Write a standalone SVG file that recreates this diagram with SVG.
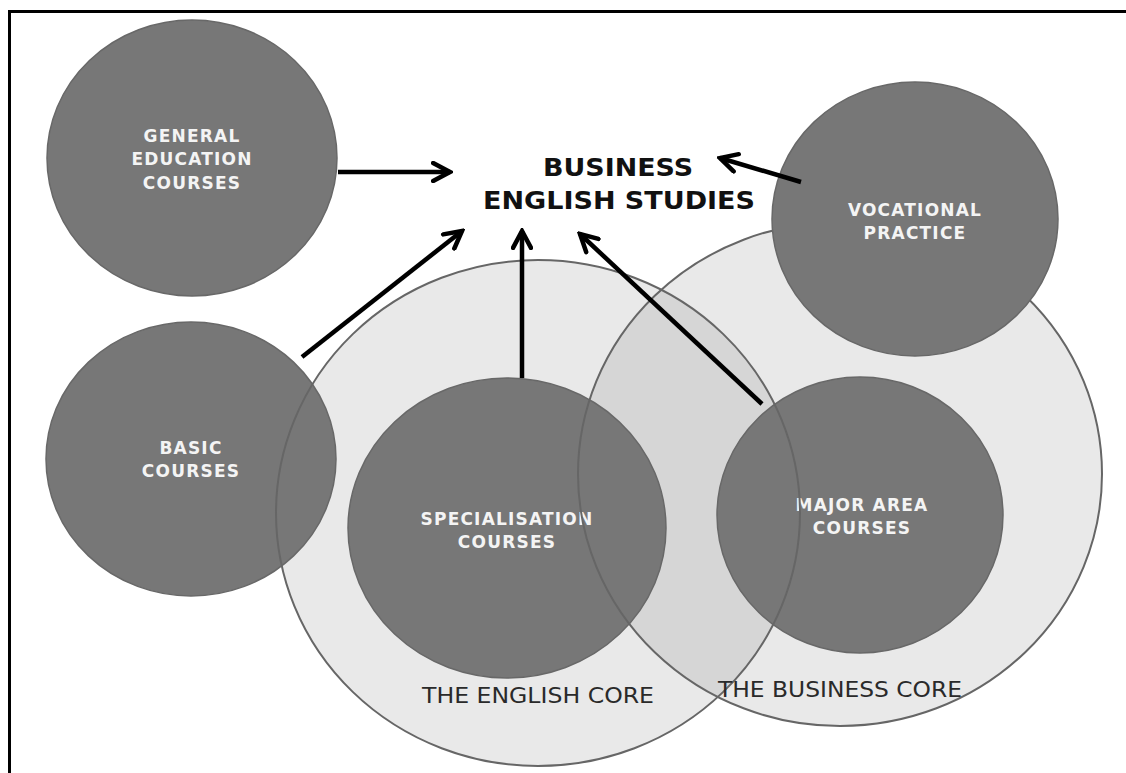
<svg xmlns="http://www.w3.org/2000/svg" width="1126" height="773" viewBox="0 0 1126 773">
<style>
.dark{fill:#777777;stroke:#686868;stroke-width:1.5}
.corefill{fill:#e9e9e9;stroke:none}
.coreline{fill:none;stroke:#666666;stroke-width:2}
.lbl{font-family:"DejaVu Sans",Verdana,sans-serif;font-weight:bold;font-size:17px;letter-spacing:1.2px;fill:#f4f4f4;text-anchor:middle}
.title{font-family:"DejaVu Sans",Verdana,sans-serif;font-weight:bold;font-size:24px;fill:#111;text-anchor:middle}
.core{font-family:"DejaVu Sans",Verdana,sans-serif;font-size:22px;fill:#2a2a2a;text-anchor:middle}
.arr{stroke:#000;stroke-width:4.5;fill:none;stroke-linecap:butt}
</style>
<defs>
<marker id="ah" viewBox="0 0 10 10" refX="8.5" refY="5" markerWidth="5" markerHeight="5" orient="auto" markerUnits="strokeWidth">
<path d="M1,1 L8.5,5 L1,9" fill="none" stroke="#000" stroke-width="2" stroke-linecap="round" stroke-linejoin="miter"/>
</marker>
<clipPath id="engclip"><ellipse cx="538" cy="513" rx="262" ry="253"/></clipPath>
</defs>
<rect width="1126" height="773" fill="#ffffff"/>
<g id="frame">
<line x1="8" y1="11.5" x2="1126" y2="11.5" stroke="#000" stroke-width="3"/>
<line x1="9.5" y1="10" x2="9.5" y2="773" stroke="#000" stroke-width="3"/>
</g>
<g id="core-fills">
<ellipse class="corefill" cx="538" cy="513" rx="262" ry="253"/>
<ellipse class="corefill" cx="840" cy="474" rx="262" ry="252"/>
<ellipse cx="840" cy="474" rx="262" ry="252" fill="#d6d6d6" clip-path="url(#engclip)"/>
</g>
<g id="general-education">
<ellipse class="dark" cx="192" cy="158" rx="145" ry="138"/>
<text class="lbl" x="192" y="142">GENERAL</text>
<text class="lbl" x="192" y="165">EDUCATION</text>
<text class="lbl" x="192" y="189">COURSES</text>
</g>
<g id="basic-courses">
<ellipse class="dark" cx="191" cy="459" rx="145" ry="137"/>
<text class="lbl" x="191" y="454">BASIC</text>
<text class="lbl" x="191" y="477">COURSES</text>
</g>
<g id="specialisation-courses">
<ellipse class="dark" cx="507" cy="528" rx="159" ry="150"/>
<text class="lbl" x="507" y="525">SPECIALISATION</text>
<text class="lbl" x="507" y="548">COURSES</text>
</g>
<g id="major-area-courses">
<ellipse class="dark" cx="860" cy="515" rx="143" ry="138"/>
<text class="lbl" x="862" y="511">MAJOR AREA</text>
<text class="lbl" x="862" y="534">COURSES</text>
</g>
<g id="english-core">
<ellipse class="coreline" cx="538" cy="513" rx="262" ry="253"/>
<text class="core" x="538" y="703" textLength="232" lengthAdjust="spacingAndGlyphs">THE ENGLISH  CORE</text>
</g>
<g id="business-core">
<ellipse class="coreline" cx="840" cy="474" rx="262" ry="252"/>
<text class="core" x="840" y="697" textLength="244" lengthAdjust="spacingAndGlyphs">THE BUSINESS  CORE</text>
</g>
<g id="vocational-practice">
<ellipse class="dark" cx="915" cy="219" rx="143" ry="137"/>
<text class="lbl" x="915" y="216">VOCATIONAL</text>
<text class="lbl" x="915" y="239">PRACTICE</text>
</g>
<g id="business-english-studies">
<text class="title" x="618" y="176" textLength="150" lengthAdjust="spacingAndGlyphs">BUSINESS</text>
<text class="title" x="619" y="209" textLength="272" lengthAdjust="spacingAndGlyphs">ENGLISH STUDIES</text>
</g>
<g id="connectors">
<line class="arr" x1="338" y1="172" x2="450" y2="172" marker-end="url(#ah)"/>
<line class="arr" x1="302" y1="357" x2="462" y2="231" marker-end="url(#ah)"/>
<line class="arr" x1="522" y1="378" x2="522" y2="231" marker-end="url(#ah)"/>
<line class="arr" x1="762" y1="404" x2="580" y2="234" marker-end="url(#ah)"/>
<line class="arr" x1="801" y1="182" x2="720" y2="158" marker-end="url(#ah)"/>
</g>
</svg>
